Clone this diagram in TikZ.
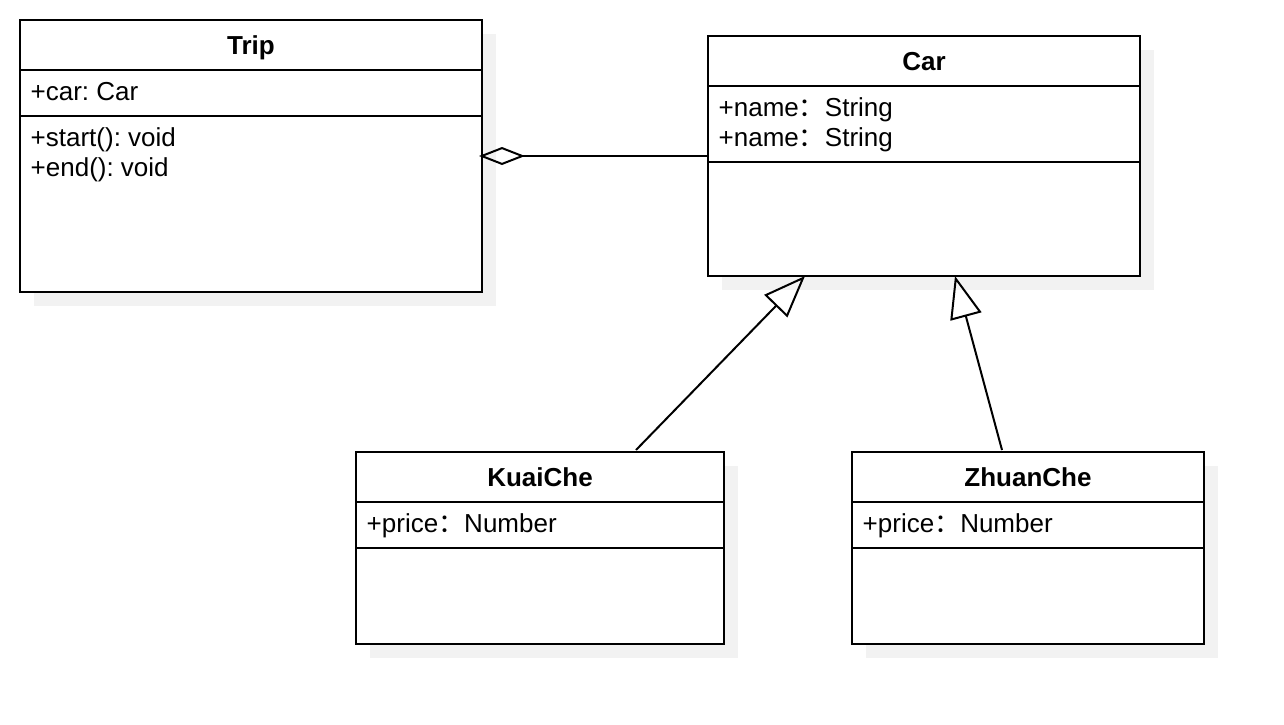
\documentclass[tikz,border=0pt]{standalone}
\usepackage{fontspec}
\setmainfont{Liberation Sans}
\newfontfamily\cjk{Noto Sans CJK SC}
\usetikzlibrary{arrows.meta,positioning,calc,shadows}
\definecolor{shadegray}{HTML}{F2F2F2}
\newcommand{\uml}{\fontsize{26}{30}\selectfont}
\newcommand{\fcolon}{{\cjk ：}}
\frenchspacing

\begin{document}
\begin{tikzpicture}[x=1pt,y=-1pt,
    classbox/.style={draw,line width=2pt,fill=white,inner sep=0pt,outer sep=0pt,
      drop shadow={shadow xshift=14pt,shadow yshift=-14pt,fill=shadegray,opacity=1}},
    clsname/.style={anchor=base,inner sep=0pt,font=\uml\bfseries},
    attr/.style={anchor=base west,inner sep=0pt,font=\uml},
    sep/.style={line width=2pt},
    aggr/.style={line width=2pt,shorten >=-3pt,-{Diamond[open,length=46pt,width=18pt]}},
    inherit/.style={line width=2pt,-{Triangle[open,length=42pt,width=32pt]}}]
  \useasboundingbox (0,0) rectangle (1284,724);
  % classes
  \node[classbox,minimum width=462pt,minimum height=272pt] (trip) at (251,156) {};
  \node[classbox,minimum width=432pt,minimum height=240pt] (car) at (924,156) {};
  \node[classbox,minimum width=368pt,minimum height=192pt] (kuai) at (540,548) {};
  \node[classbox,minimum width=352pt,minimum height=192pt] (zhuan) at (1028,548) {};
  % compartments
  \draw[sep] ($(trip.north west)+(0,50)$) -- ($(trip.north east)+(0,50)$);
  \draw[sep] ($(trip.north west)+(0,96)$) -- ($(trip.north east)+(0,96)$);
  \draw[sep] ($(car.north west)+(0,50)$) -- ($(car.north east)+(0,50)$);
  \draw[sep] ($(car.north west)+(0,126)$) -- ($(car.north east)+(0,126)$);
  \draw[sep] ($(kuai.north west)+(0,50)$) -- ($(kuai.north east)+(0,50)$);
  \draw[sep] ($(kuai.north west)+(0,96)$) -- ($(kuai.north east)+(0,96)$);
  \draw[sep] ($(zhuan.north west)+(0,50)$) -- ($(zhuan.north east)+(0,50)$);
  \draw[sep] ($(zhuan.north west)+(0,96)$) -- ($(zhuan.north east)+(0,96)$);
  % texts
  \node[clsname] (trip title) at ($(trip.north)+(0,34)$) {Trip};
  \node[attr] (trip car) at ($(trip.north west)+(10.5,80)$) {+car: Car};
  \node[attr] (trip start) at ($(trip.north west)+(10.5,126)$) {+start(): void};
  \node[attr] (trip end) at ($(trip.north west)+(10.5,156)$) {+end(): void};
  \node[clsname] (car title) at ($(car.north)+(0,34)$) {Car};
  \node[attr] (car name1) at ($(car.north west)+(10.5,80)$) {+name\fcolon String};
  \node[attr] (car name2) at ($(car.north west)+(10.5,110)$) {+name\fcolon String};
  \node[clsname] (kuai title) at ($(kuai.north)+(0,34)$) {KuaiChe};
  \node[attr] (kuai price) at ($(kuai.north west)+(10.5,80)$) {+price\fcolon Number};
  \node[clsname] (zhuan title) at ($(zhuan.north)+(0,34)$) {ZhuanChe};
  \node[attr] (zhuan price) at ($(zhuan.north west)+(10.5,80)$) {+price\fcolon Number};
  % relations
  \draw[aggr] (car.west) -- (trip.east);
  \coordinate (kuai top) at ($(kuai.north)+(96,-2)$);
  \coordinate (car k) at ($(car.south)+(-119,0)$);
  \draw[inherit] (kuai top) -- (car k);
  \coordinate (zhuan top) at ($(zhuan.north)+(-26,-2)$);
  \coordinate (car z) at ($(car.south)+(31,0)$);
  \draw[inherit] (zhuan top) -- (car z);
\end{tikzpicture}
\end{document}
